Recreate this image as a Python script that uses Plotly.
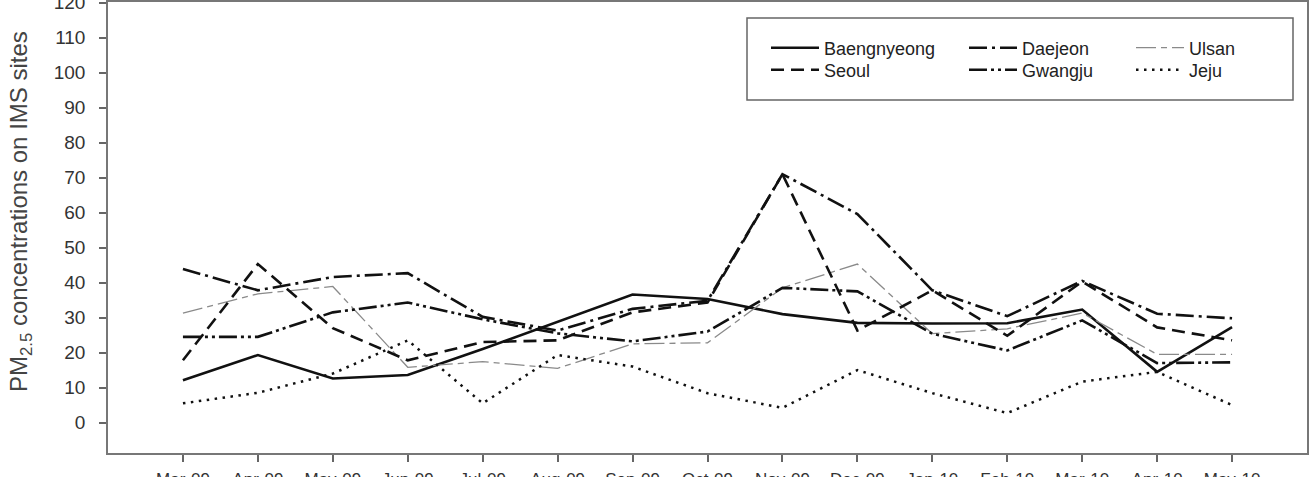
import plotly.graph_objects as go

periods = ["Mar-09", "Apr-09", "May-09", "Jun-09", "Jul-09", "Aug-09", "Sep-09", "Oct-09",
           "Nov-09", "Dec-09", "Jan-10", "Feb-10", "Mar-10", "Apr-10", "May-10"]

baengnyeong = [12.1, 19.3, 12.6, 13.6, 21.0, 28.7, 36.6, 35.3, 31.0, 28.5, 28.3, 28.4, 32.3, 14.5, 27.3]
seoul       = [17.8, 45.3, 27.0, 17.8, 23.0, 23.5, 31.5, 34.3, 71.0, 26.3, 37.8, 24.8, 40.3, 27.2, 23.5]
daejeon     = [43.9, 37.8, 41.6, 42.7, 30.2, 26.3, 32.5, 34.8, 71.0, 59.6, 37.8, 30.4, 40.5, 31.1, 29.8]
gwangju     = [24.5, 24.5, 31.5, 34.3, 29.5, 25.5, 23.2, 26.0, 38.5, 37.5, 25.4, 20.6, 29.2, 17.0, 17.2]
ulsan       = [31.3, 36.8, 38.9, 15.8, 17.4, 15.5, 22.5, 22.8, 38.5, 45.3, 25.4, 26.8, 31.3, 19.5, 19.5]
jeju        = [5.5, 8.5, 14.0, 23.5, 5.5, 19.3, 16.0, 8.4, 4.2, 15.0, 8.4, 2.7, 11.7, 14.5, 5.0]

y_ticks = list(range(0, 121, 10))

x_idx = list(range(len(periods)))

series = [
    # name, values, color, width, dash, legend, legendwidth
    ("Baengnyeong", baengnyeong, "#111111", 2.6, "solid", "legend", 135),
    ("Daejeon", daejeon, "#111111", 2.6, "18px,5px,3px,5px", "legend", 104),
    ("Ulsan", ulsan, "#8a8a8a", 1.3, "20px,5px,6px,5px", "legend", 60),
    ("Seoul", seoul, "#111111", 2.6, "13px,7px", "legend2", 135),
    ("Gwangju", gwangju, "#111111", 2.6, "18px,4px,3px,4px,3px,4px", "legend2", 104),
    ("Jeju", jeju, "#111111", 2.5, "2.5px,5.5px", "legend2", 60),
]

fig = go.Figure()
for name, vals, col, w, dash, leg, lw in series:
    fig.add_trace(go.Scatter(
        x=x_idx, y=vals, mode="lines", name=name,
        line=dict(color=col, width=w, dash=dash),
        legend=leg, legendwidth=lw, hoverinfo="skip",
    ))

W, H = 1311, 477
ml, mr, mt, mb = 108, 4, 2, 24
pw = W - ml - mr
ph = H - mt - mb

def px_x(p):
    return (p - ml) / pw

def px_y(p):
    return (H - mb - p) / ph

font_family = "Liberation Sans, Arial, sans-serif"

legend_common = dict(
    orientation="h", xanchor="left", yanchor="middle",
    bgcolor="rgba(0,0,0,0)", borderwidth=0, itemwidth=48,
    font=dict(family=font_family, size=18, color="#222222"),
    itemclick=False, itemdoubleclick=False,
)

fig.update_layout(
    width=W, height=H,
    margin=dict(l=ml, r=mr, t=mt, b=mb, pad=0, autoexpand=False),
    paper_bgcolor="white", plot_bgcolor="white",
    showlegend=True,
    legend=dict(x=px_x(766), y=px_y(48), **legend_common),
    legend2=dict(x=px_x(766), y=px_y(70), **legend_common),
    xaxis=dict(
        range=[-1, 15], tickmode="array", tickvals=x_idx, ticktext=periods,
        ticks="outside", ticklen=7, tickwidth=1.5, tickcolor="#666666",
        showline=True, linecolor="#777777", linewidth=1.5, mirror=True,
        showgrid=False, zeroline=False, automargin=False,
        tickfont=dict(family=font_family, size=17, color="#333333"),
        ticklabelstandoff=3, ticklabeloverflow="allow",
    ),
    yaxis=dict(
        range=[-8.7, 120.2], tickmode="array", tickvals=y_ticks,
        ticks="outside", ticklen=7, tickwidth=1.5, tickcolor="#666666",
        showline=True, linecolor="#777777", linewidth=1.5, mirror=True,
        showgrid=False, zeroline=False, automargin=False,
        tickfont=dict(family=font_family, size=19, color="#333333"),
        ticklabelstandoff=10, ticklabeloverflow="allow",
    ),
    shapes=[dict(
        type="rect", xref="paper", yref="paper",
        x0=px_x(747), x1=px_x(1293), y0=px_y(100), y1=px_y(18),
        line=dict(color="#666666", width=1.5), fillcolor="rgba(0,0,0,0)",
    )],
    annotations=[dict(
        text="PM<sub>2.5</sub> concentrations on IMS sites",
        xref="paper", yref="paper", x=px_x(21), y=px_y(212),
        xanchor="center", yanchor="middle", textangle=-90, showarrow=False,
        font=dict(family=font_family, size=24, color="#444444"),
    )],
)

fig.write_html("out.html")
